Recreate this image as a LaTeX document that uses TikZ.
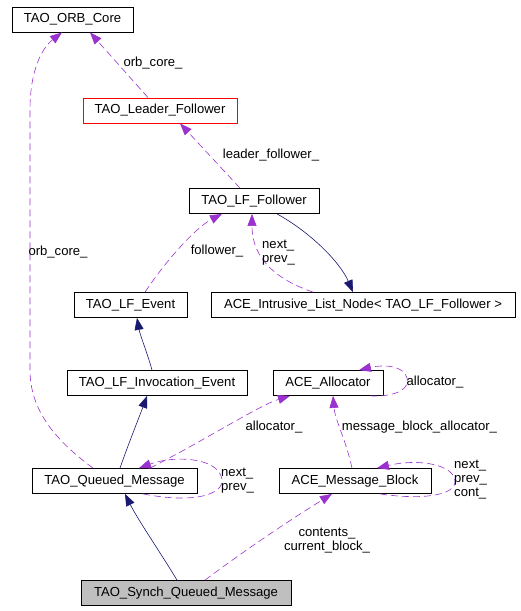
\documentclass[tikz,border=0pt]{standalone}
\usepackage{fontspec}
\setmainfont{Liberation Sans}
\usetikzlibrary{arrows.meta}
\definecolor{depcolor}{HTML}{9A32CD}
\definecolor{inhcolor}{HTML}{191970}
\definecolor{cgrey}{HTML}{BFBFBF}
\begin{document}
\begin{tikzpicture}[x=1pt, y=-1pt,
    box/.style={draw, rectangle, line width=0.8pt, minimum height=25, inner sep=0pt,
        font=\fontsize{13.1}{14}\selectfont},
    lbl/.style={inner sep=0pt, align=left, font=\fontsize{13.1}{14}\selectfont},
    dep/.style={draw=depcolor, line width=0.6pt, dash pattern=on 7pt off 4pt,
        -{Triangle[length=12pt, width=9pt, fill=depcolor]}},
    inh/.style={draw=inhcolor, line width=0.6pt,
        -{Triangle[length=12pt, width=9pt, fill=inhcolor]}}]
        \useasboundingbox (0,0) rectangle (520,611);

        \node[box, minimum width=121] (orbcore) at (72.5,19.5) {TAO\_ORB\_Core};
        \node[box, minimum width=154, draw=red] (leader) at (160,110.5) {TAO\_Leader\_Follower};
        \node[box, minimum width=130] (lffollower) at (254,201) {TAO\_LF\_Follower};
        \node[box, minimum width=304] (listnode) at (363,305) {ACE\_Intrusive\_List\_Node< TAO\_LF\_Follower >};
        \node[box, minimum width=113] (lfevent) at (130.5,305) {TAO\_LF\_Event};
        \node[box, minimum width=180] (invevent) at (157,383) {TAO\_LF\_Invocation\_Event};
        \node[box, minimum width=110] (allocator) at (328,383) {ACE\_Allocator};
        \node[box, minimum width=165] (queued) at (114.5,481) {TAO\_Queued\_Message};
        \node[box, minimum width=152] (msgblock) at (355,481) {ACE\_Message\_Block};
        \node[box, minimum width=210, fill=cgrey] (synch) at (186,593) {TAO\_Synch\_Queued\_Message};

        % usage (dashed) edges
        \draw[dep] ([xshift=-12]leader.north) -- ([xshift=17.5]orbcore.south);
        \draw[dep] ([xshift=-14]lffollower.north) -- ([xshift=20]leader.south);
        \draw[dep] ([xshift=-21.5]queued.north) .. controls (55,440) and (30,410) .. (30,370)
            -- (30,110) .. controls (30,70) and (42,48) .. ([xshift=-10.5]orbcore.south);
        \draw[dep] ([xshift=14.5]lfevent.north) .. controls (165,262) and (195,228) .. ([xshift=-32]lffollower.south);
        \draw[dep] ([xshift=-50]listnode.north) .. controls (278,280) and (252,260) .. ([xshift=-2]lffollower.south);
        \draw[dep] ([xshift=35.5]queued.north) .. controls (205,440) and (260,405) .. ([xshift=-38]allocator.south);
        \draw[dep] ([xshift=28.5]queued.south) .. controls (200,505) and (228,492) .. (221,476)
            .. controls (215,458) and (175,455) .. ([xshift=24.5]queued.north);
        \draw[dep] ([xshift=42]allocator.south) .. controls (398,397) and (410,388) .. (407,378)
            .. controls (404,366) and (385,364) .. ([xshift=31]allocator.north);
        \draw[dep] ([xshift=-3]msgblock.north) .. controls (346,440) and (335,420) .. ([xshift=5]allocator.south);
        \draw[dep] ([xshift=25]msgblock.south) .. controls (420,500) and (456,496) .. (455,481)
            .. controls (454,465) and (420,458) .. ([xshift=22]msgblock.north);
        \draw[dep] ([xshift=19]synch.north) .. controls (245,550) and (290,520) .. ([xshift=-23]msgblock.south);

        % inheritance edges
        \draw[inh] ([xshift=23]lffollower.south) .. controls (310,232) and (340,262) .. ([xshift=-10]listnode.north);
        \draw[inh] ([xshift=-5]invevent.north) .. controls (148,355) and (140,335) .. ([xshift=6.5]lfevent.south);
        \draw[inh] ([xshift=5.5]queued.north) .. controls (128,445) and (140,415) .. ([xshift=-10]invevent.south);
        \draw[inh] ([xshift=-9]synch.north) .. controls (162,555) and (138,520) .. ([xshift=10.5]queued.south);

        % labels
        \node[lbl] (l-orbcore) at (153,63) {orb\_core\_};
        \node[lbl] (l-leader) at (271,155) {leader\_follower\_};
        \node[lbl] (l-orbcore2) at (58,252) {orb\_core\_};
        \node[lbl] (l-follower) at (217,251) {follower\_};
        \node[lbl, anchor=west] (l-next1) at (262,253) {next\_\\prev\_};
        \node[lbl] (l-alloc) at (274,427) {allocator\_};
        \node[lbl] (l-alloc2) at (435,382) {allocator\_};
        \node[lbl] (l-mba) at (419.5,427) {message\_block\_allocator\_};
        \node[lbl, anchor=west] (l-next2) at (221,480.5) {next\_\\prev\_};
        \node[lbl, anchor=west] (l-next3) at (454,480) {next\_\\prev\_\\cont\_};
        \node[lbl, align=center] (l-contents) at (327,541) {contents\_\\current\_block\_};
    \end{tikzpicture}
\end{document}
